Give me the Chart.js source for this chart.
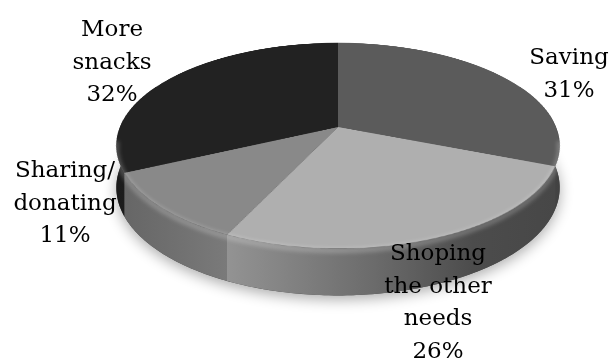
<!DOCTYPE html>
<html><head><meta charset="utf-8">
<script src="https://cdn.jsdelivr.net/npm/chart.js@4/dist/chart.umd.min.js"></script>
<style>
html,body{margin:0;padding:0;background:#fff;overflow:hidden}
#stage{position:relative;width:613px;height:358px;overflow:hidden}
#stage canvas{position:absolute}
</style>
</head><body>
<div id="stage">
  <canvas id="bg" width="613" height="358" style="left:0;top:0"></canvas>
  <canvas id="pie" width="436" height="436"></canvas>
  <canvas id="fg" width="613" height="358" style="left:0;top:0"></canvas>
</div>
<script>
// ---- data ----
const categories = ['Saving', 'Shoping the other needs', 'Sharing/donating', 'More snacks'];
const shares = [31, 26, 11, 32];
const nameLines = [['Saving'], ['Shoping', 'the other', 'needs'], ['Sharing/', 'donating'], ['More', 'snacks']];

// ---- styles / layout ----
const topColors = ['#5b5b5b', '#afafaf', '#898989', '#222222'];
const sideStops = [
  [[0, '#4a4a4a'], [1, '#424242']],
  [[0, '#939393'], [0.45, '#6b6b6b'], [0.75, '#4c4c4c'], [1, '#474747']],
  [[0, '#666666'], [1, '#7a7a7a']],
  [[0, '#1b1b1b'], [1, '#202020']]
];
const labelAnchors = [[569, 64], [438, 260], [65, 177], [112, 36]];
const LINE_H = 32.5;
const PIE_SIZE = 436;
const VIEW = { ox: 338, oy: 127, tilt: 62.85, persp: 1072, thick: 47 };

// place the library-drawn pie canvas in perspective
const pieCanvas = document.getElementById('pie');
pieCanvas.style.left = (VIEW.ox - PIE_SIZE / 2) + 'px';
pieCanvas.style.top = (VIEW.oy - PIE_SIZE / 2) + 'px';
pieCanvas.style.transformOrigin = '50% 50%';
pieCanvas.style.transform = `perspective(${VIEW.persp}px) rotateX(${VIEW.tilt}deg)`;

function project(lx, ly, lz) {
  const th = VIEW.tilt * Math.PI / 180, c = Math.cos(th), s = Math.sin(th);
  const y2 = ly * c - lz * s, z2 = ly * s + lz * c, w = 1 - z2 / VIEW.persp;
  return [VIEW.ox + lx / w, VIEW.oy + y2 / w];
}

const extrude = {
  id: 'extrude',
  afterDraw(chart) {
    const arcs = chart.getDatasetMeta(0).data;
    const a0 = arcs[0];
    const R = a0.outerRadius;
    const ox = a0.x - PIE_SIZE / 2, oy = a0.y - PIE_SIZE / 2;
    const T = VIEW.thick;
    const rimTop = (phi) => project(ox + R * Math.cos(phi), oy + R * Math.sin(phi), 0);
    // bottom rim: same screen x as the top rim, dropped by the projected thickness
    const rimBot = (phi) => {
      const t = rimTop(phi);
      const b = project(ox + R * Math.cos(phi), oy + R * Math.sin(phi), -T);
      return [t[0], b[1]];
    };

    const bg = document.getElementById('bg').getContext('2d');
    bg.clearRect(0, 0, 613, 358);
    // soft shadow
    bg.save();
    bg.shadowColor = 'rgba(0,0,0,0.33)'; bg.shadowBlur = 14; bg.shadowOffsetY = 4;
    bg.beginPath();
    for (let k = 0; k <= 360; k++) { const p = rimBot(k * Math.PI / 180); k ? bg.lineTo(p[0], p[1]) : bg.moveTo(p[0], p[1]); }
    bg.closePath(); bg.fillStyle = '#444'; bg.fill();
    bg.restore();

    // sides
    arcs.forEach((arc, i) => {
      const a1 = Math.max(arc.startAngle, -0.45), a2 = Math.min(arc.endAngle, Math.PI + 0.45);
      if (a2 <= a1) return;
      const n = Math.max(2, Math.ceil((a2 - a1) / 0.01));
      const top = [], bot = [];
      for (let k = 0; k <= n; k++) {
        const f = a1 + (a2 - a1) * k / n;
        top.push(rimTop(f)); bot.push(rimBot(f));
      }
      const xs = top.map(p => p[0]);
      const g = bg.createLinearGradient(Math.min(...xs), 0, Math.max(...xs), 0);
      sideStops[i].forEach(([o, c]) => g.addColorStop(o, c));
      bg.beginPath();
      top.forEach((p, k) => k ? bg.lineTo(p[0], p[1]) : bg.moveTo(p[0], p[1]));
      for (let k = bot.length - 1; k >= 0; k--) bg.lineTo(bot[k][0], bot[k][1]);
      bg.closePath();
      bg.fillStyle = g; bg.fill();
    });

    const fg = document.getElementById('fg').getContext('2d');
    fg.clearRect(0, 0, 613, 358);
    // bevel highlight along the front rim
    fg.save();
    fg.filter = 'blur(2px)';
    fg.beginPath();
    for (let k = 0; k <= 180; k++) {
      const f = 0.12 + (Math.PI - 0.24) * k / 180;
      const p = rimTop(f);
      k ? fg.lineTo(p[0], p[1] + 2) : fg.moveTo(p[0], p[1] + 2);
    }
    fg.lineWidth = 5; fg.strokeStyle = 'rgba(255,255,255,0.24)'; fg.stroke();
    fg.restore();

    // labels
    fg.save();
    fg.font = '23px "DejaVu Serif"';
    fg.fillStyle = '#000';
    fg.textAlign = 'center';
    fg.textBaseline = 'alphabetic';
    shares.forEach((v, i) => {
      const lines = nameLines[i].concat([v + '%']);
      const [x, y] = labelAnchors[i];
      lines.forEach((t, k) => fg.fillText(t, x, y + k * LINE_H));
    });
    fg.restore();
  }
};

new Chart(pieCanvas, {
  type: 'pie',
  data: {
    labels: categories,
    datasets: [{ data: shares, backgroundColor: topColors, borderWidth: 0, hoverOffset: 0 }]
  },
  options: {
    responsive: false,
    devicePixelRatio: 1,
    animation: false,
    events: [],
    layout: { padding: 0 },
    plugins: { legend: { display: false }, tooltip: { enabled: false } }
  },
  plugins: [extrude]
});
</script>
</body></html>
